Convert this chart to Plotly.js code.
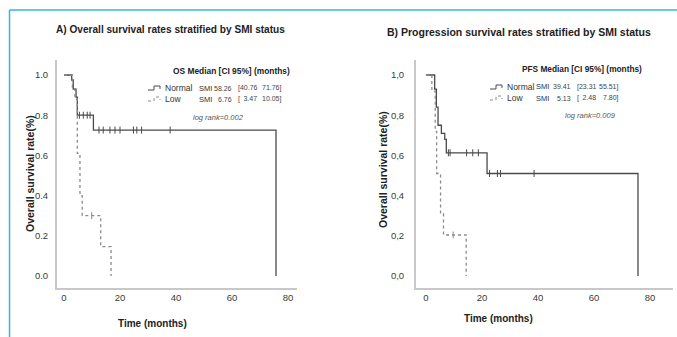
<!DOCTYPE html>
<html>
<head>
<meta charset="utf-8">
<script src="https://cdn.plot.ly/plotly-3.0.1.min.js"></script>
<style>
  html, body { margin: 0; padding: 0; background: #ffffff; }
  #chart { width: 677px; height: 337px; }
</style>
</head>
<body>
<div id="chart"></div>
<script>
// ---------------- DATA ----------------
// Panel A: overall survival (Kaplan-Meier steps)
const osNormalTime = [0, 2.75, 3.3, 4.3, 4.75, 10.5, 75.7];
const osNormalSurv = [1.0, 0.975, 0.93, 0.89, 0.80, 0.726, 0];
const osNormalCensor = [5.5, 6.9, 8.3, 9.3, 12.5, 14, 16.4, 18.2, 20, 24.8, 26, 27.7, 37.9];
const osLowTime = [0, 3.0, 3.9, 4.75, 5.7, 6.5, 13.1, 16.8];
const osLowSurv = [1.0, 0.94, 0.88, 0.61, 0.40, 0.30, 0.146, 0];
const osLowCensor = [9.9];

// Panel B: progression-free survival
const pfsNormalTime = [0, 3.1, 3.7, 4.3, 5.5, 6.7, 7.25, 21.8, 75.7];
const pfsNormalSurv = [1.0, 0.93, 0.84, 0.75, 0.71, 0.68, 0.613, 0.51, 0];
const pfsNormalCensor = [8.0, 8.6, 14.5, 16.7, 18.7, 22.7, 25.5, 26.6, 38.6];
const pfsLowTime = [0, 2.1, 3.3, 3.8, 5.2, 6.25, 14.35];
const pfsLowSurv = [1.0, 0.92, 0.72, 0.51, 0.31, 0.204, 0];
const pfsLowCensor = [9.7];

// Median table values
const groupNames = ["Normal", "Low"];
const osMedian = ["58.26", "6.76"];
const osCiLow = ["40.76", "3.47"];
const osCiHigh = ["71.76", "10.05"];
const pfsMedian = ["39.41", "5.13"];
const pfsCiLow = ["23.31", "2.48"];
const pfsCiHigh = ["55.51", "7.80"];
const osLogRank = "log rank=0.002";
const pfsLogRank = "log rank=0.009";

// Tick labels
const xTickVals = [0, 20, 40, 60, 80];
const yTickVals = [0, 0.2, 0.4, 0.6, 0.8, 1.0];
const yTickTextA = ["0.0", "0.2", "0.4", "0.6", "0.8", "1.0"];
const yTickTextB = ["0,0", "0,2", "0,4", "0,6", "0,8", "1,0"];

// Text
const titleA = "A) Overall survival rates stratified by SMI status";
const titleB = "B) Progression survival rates stratified by SMI status";
const yTitle = "Overall survival rate(%)";
const xTitle = "Time (months)";
const headA = "OS Median [CI 95%] (months)";
const headB = "PFS Median [CI 95%] (months)";

// ---------------- STYLE ----------------
const FONT = "'Liberation Sans', Arial, sans-serif";
const cNormal = "#4a4a4a";
const cLow = "#8a8a8a";
const W = 677, H = 337;
const px = x => x / W;
const py = y => 1 - y / H;

function survAt(times, surv, t) {
  let s = surv[0];
  for (let i = 0; i < times.length; i++) { if (times[i] <= t) s = surv[i]; }
  return s;
}

function kmTraces(time, surv, censor, color, dash, xa, ya) {
  return [
    { x: time, y: surv, xaxis: xa, yaxis: ya, type: "scatter", mode: "lines",
      line: { shape: "hv", color: color, width: 1.3, dash: dash }, hoverinfo: "skip" },
    { x: censor, y: censor.map(t => survAt(time, surv, t)), xaxis: xa, yaxis: ya,
      type: "scatter", mode: "markers",
      marker: { symbol: "line-ns-open", size: 5, color: color, line: { color: color, width: 1 } },
      hoverinfo: "skip" }
  ];
}

const data = [
  ...kmTraces(osNormalTime, osNormalSurv, osNormalCensor, cNormal, "solid", "x", "y"),
  ...kmTraces(osLowTime, osLowSurv, osLowCensor, cLow, "dot", "x", "y"),
  ...kmTraces(pfsNormalTime, pfsNormalSurv, pfsNormalCensor, cNormal, "solid", "x2", "y2"),
  ...kmTraces(pfsLowTime, pfsLowSurv, pfsLowCensor, cLow, "dot", "x2", "y2")
];

const axisCommon = {
  showline: true, linecolor: "#c8c8c8", linewidth: 2, ticks: "", showgrid: false,
  zeroline: false, fixedrange: true,
  tickfont: { family: FONT, size: 9.5, color: "#3a3a3a" }
};
const yDomain = [py(288), py(60)];

function ann(text, x, y, opts) {
  return Object.assign({ text: text, x: px(x), y: py(y), xref: "paper", yref: "paper",
    showarrow: false, xanchor: "left", yanchor: "middle",
    font: { family: FONT, size: 9, color: "#333" } }, opts || {});
}

function tableAnn(cfg) {
  const a = [];
  const num = { family: FONT, size: 7, color: "#444" };
  a.push(ann(cfg.head, cfg.headX, cfg.headY, { xanchor: "center", font: { family: FONT, size: cfg.headSize, color: "#222", weight: "bold" } }));
  for (let i = 0; i < 2; i++) {
    const y = cfg.rowY[i];
    a.push(ann(groupNames[i], cfg.nameX, y, { font: { family: FONT, size: 8.5, color: "#333" } }));
    a.push(ann("SMI", cfg.smiX, y, { font: { family: FONT, size: 7.5, color: "#333" } }));
    a.push(ann(cfg.med[i], cfg.medR, y, { xanchor: "right", font: num }));
    a.push(ann("[" + (cfg.lo[i].length < 5 ? "\u2002" : "") + cfg.lo[i], cfg.loX, y, { font: num }));
    a.push(ann(cfg.hi[i] + "]", cfg.hiR, y, { xanchor: "right", font: num }));
  }
  a.push(ann(cfg.logrank, cfg.lrX, cfg.lrY, { xanchor: "center", font: { family: FONT, size: 7.5, color: "#555", style: "italic" } }));
  return a;
}

const annotations = [
  ann(titleA, 170, 30, { xanchor: "center", font: { family: FONT, size: 10.1, color: "#222", weight: "bold" } }),
  ann(titleB, 519, 32, { xanchor: "center", font: { family: FONT, size: 10.5, color: "#222", weight: "bold" } }),
  ann(yTitle, 30, 174, { xanchor: "center", textangle: -90, font: { family: FONT, size: 10.5, color: "#222", weight: "bold" } }),
  ann(yTitle, 383, 170, { xanchor: "center", textangle: -90, font: { family: FONT, size: 10.5, color: "#222", weight: "bold" } }),
  ann(xTitle, 152, 323, { xanchor: "center", font: { family: FONT, size: 10, color: "#222", weight: "bold" } }),
  ann(xTitle, 498, 318, { xanchor: "center", font: { family: FONT, size: 10, color: "#222", weight: "bold" } }),
  ...tableAnn({ head: headA, headSize: 8.4, headX: 231, headY: 71, rowY: [88, 99], nameX: 163, smiX: 197,
    med: osMedian, medR: 234, lo: osCiLow, loX: 236, hi: osCiHigh, hiR: 284,
    logrank: osLogRank, lrX: 219, lrY: 117 }),
  ...tableAnn({ head: headB, headSize: 8.3, headX: 582, headY: 69, rowY: [87, 98], nameX: 505, smiX: 534,
    med: pfsMedian, medR: 573, lo: pfsCiLow, loX: 575, hi: pfsCiHigh, hiR: 621,
    logrank: pfsLogRank, lrX: 590, lrY: 115 })
];

function icon(x0, y0, color, dash) {
  // small step symbol for the table legend
  const p = `M ${px(x0)} ${py(y0 + 2)} L ${px(x0 + 6)} ${py(y0 + 2)} L ${px(x0 + 6)} ${py(y0 - 2)} L ${px(x0 + 12)} ${py(y0 - 2)} L ${px(x0 + 12)} ${py(y0 + 1)}`;
  return { type: "path", xref: "paper", yref: "paper", path: p, line: { color: color, width: 1, dash: dash } };
}

const shapes = [
  // frame lines (blue)
  { type: "line", xref: "paper", yref: "paper", x0: px(9.5), x1: px(677), y0: py(10), y1: py(10), line: { color: "#35b3e4", width: 1.5 } },
  { type: "line", xref: "paper", yref: "paper", x0: px(9.5), x1: px(9.5), y0: py(10), y1: py(337), line: { color: "#35b3e4", width: 1.5 } },
  icon(148, 88, cNormal, "solid"),
  icon(148, 99, cLow, "dot"),
  icon(490, 87, cNormal, "solid"),
  icon(490, 98, cLow, "dot")
];

const layout = {
  width: W, height: H,
  margin: { l: 0, r: 0, t: 0, b: 0 },
  paper_bgcolor: "#ffffff", plot_bgcolor: "#ffffff",
  showlegend: false,
  xaxis: Object.assign({}, axisCommon, { domain: [px(57), px(297)], range: [-2.5, 83.2], tickvals: xTickVals, anchor: "y" }),
  yaxis: Object.assign({}, axisCommon, { domain: yDomain, range: [-0.0597, 1.0746], tickvals: yTickVals, ticktext: yTickTextA, anchor: "x", ticklabelstandoff: 5 }),
  xaxis2: Object.assign({}, axisCommon, { domain: [px(416), px(673)], range: [-3.57, 88.2], tickvals: xTickVals, anchor: "y2" }),
  yaxis2: Object.assign({}, axisCommon, { domain: yDomain, range: [-0.0597, 1.0746], tickvals: yTickVals, ticktext: yTickTextB, anchor: "x2", ticklabelstandoff: 8 }),
  annotations: annotations,
  shapes: shapes
};

Plotly.newPlot("chart", data, layout, { staticPlot: true, displayModeBar: false });
</script>
</body>
</html>
